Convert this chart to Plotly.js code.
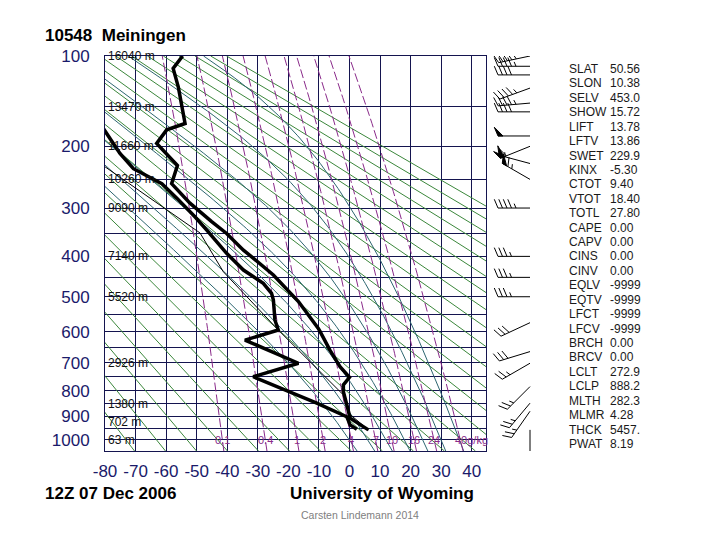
<!DOCTYPE html>
<html><head><meta charset="utf-8">
<script src="https://cdn.plot.ly/plotly-3.0.1.min.js"></script>
<style>body{margin:0;background:#fff}#chart{width:720px;height:540px}</style>
</head><body><div id="chart"></div>
<script>
// ---------- data ----------
const PRESSURE_LEVELS = [100,150,200,250,300,350,400,450,500,550,600,650,700,750,800,850,900,950,1000,1050];
const PRESSURE_LABELS = ['100','','200','','300','','400','','500','','600','','700','','800','','900','','1000',''];
const TEMP_TICKS = [-80,-70,-60,-50,-40,-30,-20,-10,0,10,20,30,40];
const HEIGHT_P = [100,150,200,250,300,400,500,700,850,925,1000];
const HEIGHT_TXT = ['16040 m','13470 m','11660 m','10260 m','9090 m','7140 m','5520 m','2926 m','1380 m','702 m','63 m'];

const tempP = [957, 908, 862, 804, 779, 751, 714, 658, 600, 590, 513, 444, 401, 386, 350, 326, 291, 257, 228, 196, 178, 170, 129, 111, 100];
const tempT = [6.2, 0.2, -0.7, -2.0, -2.0, 0.0, -3.1, -6.4, -9.6, -10.2, -16.7, -24.9, -32.0, -34.7, -40.2, -45.1, -52.2, -58.2, -56.3, -63.1, -59.8, -53.8, -56.0, -57.7, -54.6];
const dewP = [954, 936, 902, 848, 749, 702, 626, 595, 565, 509, 491, 465, 432, 393, 343, 317, 282, 257, 233, 210, 176];
const dewT = [2.4, 0.2, -0.9, -10.7, -31.5, -16.7, -34.2, -23.3, -24.4, -24.9, -25.5, -28.2, -34.7, -40.2, -46.7, -50.5, -56.5, -61.4, -70.7, -75.1, -80.6];
const parcelP = [957, 888, 822, 595, 436, 349, 230];
const parcelT = [6.2, -0.3, -1.5, -23.3, -41.3, -48.9, -80.0];

const windP   = [100, 109, 117, 130, 146, 156, 186, 200, 225, 250, 300, 400, 450, 500, 573, 663, 702, 785, 848, 880, 957];
const windDir = [258, 270, 270, 250, 265, 270, 270, 248, 285, 300, 270, 270, 270, 270, 245, 253, 240, 225, 220, 215, 180];
const windSpd = [45, 45, 40, 45, 45, 40, 50, 60, 55, 65, 45, 35, 35, 35, 30, 30, 25, 25, 25, 25, 5];

const THETAS = [190,200,210,220,230,240,250,260,270,280,290,300,310,320,330,340,350,360,370,380,390,400,410,420,430,440,450];
const MOIST_T1000 = [0,6,12,18,24,30,36];
const MIXR = [0.1,0.4,1,2,4,7,10,16,24,40];
const MIXR_TXT = ['0.1','0.4','1','2','4','7','10','16','24','40g/kg'];

const STAT_NAMES = ['SLAT','SLON','SELV','SHOW','LIFT','LFTV','SWET','KINX','CTOT','VTOT','TOTL','CAPE','CAPV','CINS','CINV','EQLV','EQTV','LFCT','LFCV','BRCH','BRCV','LCLT','LCLP','MLTH','MLMR','THCK','PWAT'];
const STAT_VALUES = ['50.56','10.38','453.0','15.72','13.78','13.86','229.9','-5.30','9.40','18.40','27.80','0.00','0.00','0.00','0.00','-9999','-9999','-9999','-9999','0.00','0.00','272.9','888.2','282.3','4.28','5457.','8.19'];

// ---------- geometry / helpers ----------
const W=720,H=540,ML=105,MR=40,MT=56,MB=89;
const PW=W-ML-MR, PH=H-MT-MB;
const XRIGHT = 486;
const PK = p => Math.pow(p, 0.286);
const PKMIN = PK(100), PKMAX = PK(1050);
const pkPerPx = (PKMAX-PKMIN)/PH;
const es = Tc => 6.112*Math.exp(17.67*Tc/(Tc+243.5));
const dewFromE = e => { const l=Math.log(e/6.112); return 243.5*l/(17.67-l); };

const bgP = [];
for (let p=1050; p>=100; p-=10) bgP.push(p);

// dry adiabats
let dx=[],dy=[];
THETAS.forEach(th=>{ bgP.forEach(p=>{dx.push(th*Math.pow(p/1000,0.286)-273.15); dy.push(PK(p));}); dx.push(null); dy.push(null); });

// moist adiabats
function lapse(Tk,p){
  const e=es(Tk-273.15), rs=0.622*e/(p-e);
  const Rd=287.04,cp=1005.7,L=2.501e6;
  return (1/p)*(Rd*Tk+L*rs)/(cp+L*L*rs*0.622/(Rd*Tk*Tk));
}
function integrate(Tk,p0,p1,step){
  const out=[[p0,Tk]]; let p=p0,T=Tk;
  while((step<0 && p>p1) || (step>0 && p<p1)){
    const k1=lapse(T,p),k2=lapse(T+step*k1/2,p+step/2),k3=lapse(T+step*k2/2,p+step/2),k4=lapse(T+step*k3,p+step);
    T+=step*(k1+2*k2+2*k3+k4)/6; p+=step; out.push([p,T]);
  }
  return out;
}
let mx=[],my=[];
MOIST_T1000.forEach(t0=>{
  const up=integrate(t0+273.15,1000,100,-5), dn=integrate(t0+273.15,1000,1050,5);
  const pts=dn.reverse().concat(up.slice(1));
  pts.forEach(([p,T])=>{mx.push(T-273.15); my.push(PK(p));});
  mx.push(null); my.push(null);
});

// mixing ratio lines
let wx=[],wy=[];
MIXR.forEach(w=>{ bgP.forEach(p=>{ wx.push(dewFromE(w*p/(622+w))); wy.push(PK(p)); }); wx.push(null); wy.push(null); });

// wind barbs (x2/y2 axes: x in pixel units, y same scale as main axis)
const BARB_X=530, STAFF=32, BLEN=9.5, BSP=4.5, PEN_W=5;
let bx=[],by=[],fx=[],fy=[];
windP.forEach((p,i)=>{
  const d=windDir[i]*Math.PI/180;
  const u=[Math.sin(d),-Math.cos(d)];
  const n=[-u[1],u[0]];
  const b=[0.92*n[0]+0.39*u[0],0.92*n[1]+0.39*u[1]];
  const y0=PK(p);
  const pt=(s,len=0)=>[BARB_X+s*u[0]+len*b[0], y0+(s*u[1]+len*b[1])*pkPerPx];
  const seg=(a,c)=>{bx.push(a[0],c[0],null);by.push(a[1],c[1],null);};
  seg(pt(0),pt(STAFF));
  let spd=Math.round(windSpd[i]/5)*5, s=STAFF;
  const pen=Math.floor(spd/50); spd-=pen*50;
  const full=Math.floor(spd/10); spd-=full*10;
  const half=spd>=5;
  for(let k=0;k<pen;k++){
    const a=pt(s),c=pt(s,BLEN),e=pt(s-PEN_W);
    fx.push(a[0],c[0],e[0],a[0],null); fy.push(a[1],c[1],e[1],a[1],null);
    s-=PEN_W+1.5;
  }
  for(let k=0;k<full;k++){ seg(pt(s),pt(s,BLEN)); s-=BSP; }
  if(half){ if(pen===0&&full===0) s-=BSP; seg(pt(s),pt(s,BLEN/2)); }
});

const NAVY='#14144f';
const traces=[
  {x:dx,y:dy,mode:'lines',line:{color:'#3b873b',width:1},hoverinfo:'skip'},
  {x:mx,y:my,mode:'lines',line:{color:'#2d6670',width:1},hoverinfo:'skip'},
  {x:wx,y:wy,mode:'lines',line:{color:'#8a2a8a',width:1,dash:'9px,3px'},hoverinfo:'skip'},
  {x:parcelT,y:parcelP.map(PK),mode:'lines',line:{color:'#000',width:1},hoverinfo:'skip'},
  {x:dewT,y:dewP.map(PK),mode:'lines',line:{color:'#000',width:3.5},hoverinfo:'skip'},
  {x:tempT,y:tempP.map(PK),mode:'lines',line:{color:'#000',width:3.5},hoverinfo:'skip'},
  {x:bx,y:by,xaxis:'x2',yaxis:'y2',mode:'lines',line:{color:'#000',width:1},hoverinfo:'skip'},
  {x:fx,y:fy,xaxis:'x2',yaxis:'y2',mode:'lines',fill:'toself',fillcolor:'#000',line:{color:'#000',width:1},hoverinfo:'skip'}
];

const FONT='"Liberation Sans", Arial, sans-serif';
const ann=[];
HEIGHT_P.forEach((p,i)=>ann.push({xref:'x',yref:'y',x:-80,y:PK(p),text:HEIGHT_TXT[i],showarrow:false,xanchor:'left',yanchor:'middle',xshift:1,font:{family:FONT,size:12,color:'#111'}}));
MIXR.forEach((w,i)=>{
  const last=i===MIXR.length-1;
  ann.push({xref:'x',yref:'y',x:dewFromE(w*1000/(622+w)),y:PK(1000),text:MIXR_TXT[i],showarrow:false,xanchor:last?'left':'center',xshift:last?-7:0,yanchor:'middle',font:{family:FONT,size:11,color:'#8a2a8a'}});
});
const px2x = px => (px-ML)/PW, px2y = py => 1-(py-MT)/PH;
STAT_NAMES.forEach((s,i)=>{
  const py=69+14.42*i;
  ann.push({xref:'paper',yref:'paper',x:px2x(567),y:px2y(py),text:s,showarrow:false,xanchor:'left',yanchor:'middle',font:{family:FONT,size:12,color:'#1a1a1a'}});
  ann.push({xref:'paper',yref:'paper',x:px2x(608),y:px2y(py),text:STAT_VALUES[i],showarrow:false,xanchor:'left',yanchor:'middle',font:{family:FONT,size:12,color:'#1a1a1a'}});
});
ann.push({xref:'paper',yref:'paper',x:px2x(43),y:px2y(36),text:'<b>10548\u00a0\u00a0Meiningen</b>',showarrow:false,xanchor:'left',yanchor:'middle',font:{family:FONT,size:17,color:'#000'}});
ann.push({xref:'paper',yref:'paper',x:px2x(43),y:px2y(494),text:'<b>12Z 07 Dec 2006</b>',showarrow:false,xanchor:'left',yanchor:'middle',font:{family:FONT,size:17,color:'#000'}});
ann.push({xref:'paper',yref:'paper',x:px2x(288),y:px2y(494),text:'<b>University of Wyoming</b>',showarrow:false,xanchor:'left',yanchor:'middle',font:{family:FONT,size:17,color:'#000'}});
ann.push({xref:'paper',yref:'paper',x:px2x(360),y:px2y(515),text:'Carsten Lindemann 2014',showarrow:false,xanchor:'center',yanchor:'middle',font:{family:FONT,size:10.5,color:'#808080'}});

const layout={
  width:W,height:H,margin:{l:ML,r:MR,t:MT,b:MB},
  paper_bgcolor:'#fff',plot_bgcolor:'#fff',showlegend:false,
  xaxis:{domain:[0,(XRIGHT-ML)/PW],range:[-80,-80+(XRIGHT-ML)/3.056],tickmode:'array',tickvals:TEMP_TICKS,ticktext:TEMP_TICKS.map(String),
    showgrid:true,gridcolor:NAVY,gridwidth:1,zeroline:false,showline:true,linecolor:NAVY,linewidth:1,mirror:true,ticks:'',
    ticklabelstandoff:5,tickfont:{family:FONT,size:17,color:'#1a1a6a'}},
  yaxis:{range:[PKMAX,PKMIN],tickmode:'array',tickvals:PRESSURE_LEVELS.map(PK),ticktext:PRESSURE_LABELS,
    showgrid:true,gridcolor:NAVY,gridwidth:1,zeroline:false,showline:true,linecolor:NAVY,linewidth:1,mirror:true,ticks:'',
    ticklabelstandoff:11,tickfont:{family:FONT,size:17,color:'#1a1a6a'}},
  xaxis2:{domain:[(490-ML)/PW,(560-ML)/PW],range:[490,560],anchor:'y2',visible:false,showgrid:false,zeroline:false},
  yaxis2:{domain:[0,1],range:[PKMAX,PKMIN],anchor:'x2',visible:false,showgrid:false,zeroline:false},
  annotations:ann
};
Plotly.newPlot('chart',traces,layout,{staticPlot:true,displayModeBar:false});
</script></body></html>
